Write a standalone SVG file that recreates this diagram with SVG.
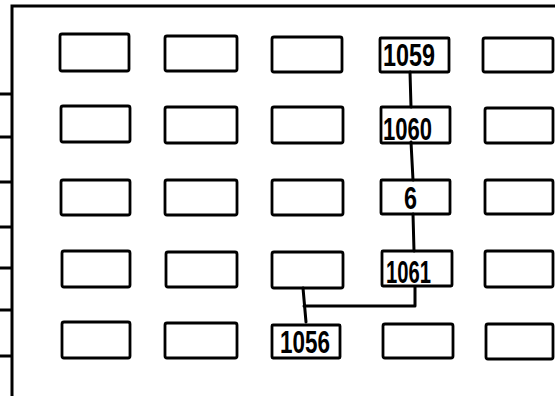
<svg xmlns="http://www.w3.org/2000/svg" width="555" height="396" viewBox="0 0 555 396">
<style>
.box{fill:none;stroke:#000;stroke-width:2.8}
.ln{fill:none;stroke:#000;stroke-width:3;stroke-linecap:round;stroke-linejoin:round}
.fr{fill:none;stroke:#000;stroke-width:3}
.lbl{font-family:"Liberation Sans",sans-serif;font-size:31px;font-weight:bold;fill:#000}
</style>
<rect width="555" height="396" fill="#fff"/>
<g id="frame">
<path class="fr" d="M12,396 V6 H555"/>
<path class="fr" d="M0,94 H12 M0,137 H12 M0,182 H12 M0,227 H12 M0,268 H12 M0,310 H12 M0,356 H12"/>
</g>
<g id="connectors">
<path class="ln" d="M410,72 L411,107"/>
<path class="ln" d="M411,142 L413,180"/>
<path class="ln" d="M413,214 L414,251"/>
<path class="ln" d="M415,287 V306 H304"/>
<path class="ln" d="M303,288 L306,322"/>
</g>
<g id="r1c1"><rect class="box" x="60" y="34" width="69" height="37" rx="2"/></g>
<g id="r1c2"><rect class="box" x="165" y="36" width="72" height="35" rx="2"/></g>
<g id="r1c3"><rect class="box" x="272" y="37" width="70" height="35" rx="2"/></g>
<g id="n1059"><rect class="box" x="380" y="38" width="69" height="34" rx="1"/><text class="lbl" x="383" y="66" textLength="52" lengthAdjust="spacingAndGlyphs">1059</text></g>
<g id="r1c5"><rect class="box" x="483" y="38" width="70" height="34" rx="2"/></g>
<g id="r2c1"><rect class="box" x="61" y="106" width="69" height="36" rx="2"/></g>
<g id="r2c2"><rect class="box" x="165" y="107" width="72" height="36" rx="2"/></g>
<g id="r2c3"><rect class="box" x="272" y="107" width="71" height="36" rx="2"/></g>
<g id="n1060"><rect class="box" x="381" y="107" width="69" height="36" rx="1"/><text class="lbl" x="383" y="140" textLength="49" lengthAdjust="spacingAndGlyphs">1060</text></g>
<g id="r2c5"><rect class="box" x="485" y="108" width="68" height="35" rx="2"/></g>
<g id="r3c1"><rect class="box" x="61" y="180" width="69" height="35" rx="2"/></g>
<g id="r3c2"><rect class="box" x="165" y="180" width="72" height="35" rx="2"/></g>
<g id="r3c3"><rect class="box" x="272" y="180" width="71" height="35" rx="2"/></g>
<g id="n6"><rect class="box" x="381" y="180" width="69" height="34" rx="1"/><text class="lbl" x="404" y="209" textLength="13" lengthAdjust="spacingAndGlyphs">6</text></g>
<g id="r3c5"><rect class="box" x="485" y="180" width="68" height="34" rx="2"/></g>
<g id="r4c1"><rect class="box" x="62" y="251" width="68" height="36" rx="2"/></g>
<g id="r4c2"><rect class="box" x="166" y="252" width="71" height="35" rx="2"/></g>
<g id="r4c3"><rect class="box" x="272" y="252" width="71" height="36" rx="2"/></g>
<g id="n1061"><rect class="box" x="382" y="251" width="70" height="35" rx="1"/><text class="lbl" x="386" y="283" textLength="45" lengthAdjust="spacingAndGlyphs">1061</text></g>
<g id="r4c5"><rect class="box" x="485" y="251" width="68" height="36" rx="2"/></g>
<g id="r5c1"><rect class="box" x="62" y="322" width="68" height="36" rx="2"/></g>
<g id="r5c2"><rect class="box" x="165" y="323" width="72" height="35" rx="2"/></g>
<g id="n1056"><rect class="box" x="272" y="325" width="68" height="33" rx="1"/><text class="lbl" x="280" y="353" textLength="50" lengthAdjust="spacingAndGlyphs">1056</text></g>
<g id="r5c4"><rect class="box" x="383" y="324" width="70" height="34" rx="2"/></g>
<g id="r5c5"><rect class="box" x="486" y="324" width="67" height="35" rx="2"/></g>
</svg>
